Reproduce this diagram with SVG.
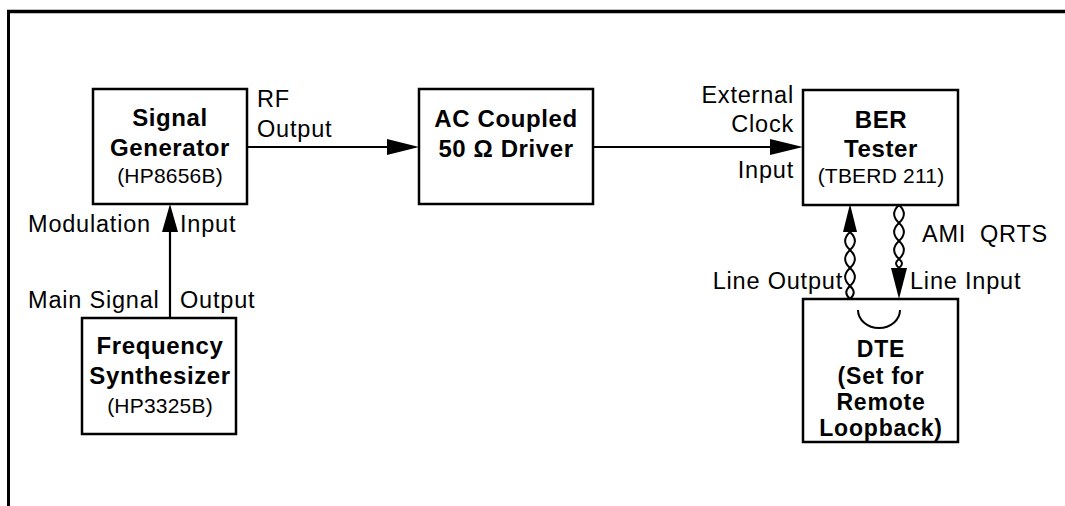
<svg xmlns="http://www.w3.org/2000/svg" width="1065" height="506" viewBox="0 0 1065 506">
<defs>
<style>
.box{fill:#fff;stroke:#000;stroke-width:2.5}
.ln{fill:none;stroke:#000;stroke-width:2.2}
.tw{fill:none;stroke:#000;stroke-width:2}
.b{font-family:"Liberation Sans",Arial,sans-serif;font-weight:bold;font-size:24px;letter-spacing:0.6px;text-anchor:middle;fill:#000}
.d{font-size:23px;letter-spacing:0.8px}
.n{font-family:"Liberation Sans",Arial,sans-serif;font-size:23.5px;letter-spacing:0.8px;fill:#000}
.p{font-family:"Liberation Sans",Arial,sans-serif;font-size:21px;letter-spacing:0.2px;text-anchor:middle;fill:#000}
.r{text-anchor:end}
.ah{fill:#000}
</style>
</defs>
<rect width="1065" height="506" fill="#fff"/>
<g id="frame">
<line x1="7" y1="11.5" x2="1065" y2="11.5" stroke="#000" stroke-width="3.5"/>
<line x1="8.5" y1="10" x2="8.5" y2="506" stroke="#000" stroke-width="3"/>
</g>
<g id="connectors">
<line class="ln" x1="247" y1="147" x2="392" y2="147"/>
<polygon class="ah" points="387,139 419,147 387,155"/>
<line class="ln" x1="593" y1="147" x2="775" y2="147"/>
<polygon class="ah" points="770,139 803,147 770,155"/>
<line class="ln" x1="170" y1="318" x2="170" y2="228"/>
<polygon class="ah" points="162,232 170,204 178,232"/>
<polygon class="ah" points="843,232 850,204 857,232"/>
<path class="tw" d="M850 232 C856.5 238 856.5 244 850 250 C843.5 256 843.5 262 850 268 C856.5 274 856.5 280 850 286 C845 290.5 845 294.5 850 299"/>
<path class="tw" d="M850 232 C843.5 238 843.5 244 850 250 C856.5 256 856.5 262 850 268 C843.5 274 843.5 280 850 286 C855 290.5 855 294.5 850 299"/>
<path class="tw" d="M899 205 C905.5 211 905.5 217 899 223 C892.5 229 892.5 235 899 241 C905.5 247 905.5 253 899 259 C895 262 895 265 899 268"/>
<path class="tw" d="M899 205 C892.5 211 892.5 217 899 223 C905.5 229 905.5 235 899 241 C892.5 247 892.5 253 899 259 C903 262 903 265 899 268"/>
<polygon class="ah" points="891,268 907,268 899,299"/>
</g>
<g id="signal-generator">
<rect class="box" x="93" y="89" width="154" height="115"/>
<text class="b" x="170" y="126">Signal</text>
<text class="b" x="170" y="156">Generator</text>
<text class="p" x="170" y="183">(HP8656B)</text>
</g>
<g id="frequency-synthesizer">
<rect class="box" x="82" y="318" width="154" height="116"/>
<text class="b" x="160" y="354">Frequency</text>
<text class="b" x="160" y="384">Synthesizer</text>
<text class="p" x="160" y="413">(HP3325B)</text>
</g>
<g id="ac-driver">
<rect class="box" x="419" y="89" width="174" height="115"/>
<text class="b" x="506" y="127">AC Coupled</text>
<text class="b" x="506" y="157">50 Ω Driver</text>
</g>
<g id="ber-tester">
<rect class="box" x="803" y="90" width="155" height="115"/>
<text class="b" x="881" y="128">BER</text>
<text class="b" x="881" y="157">Tester</text>
<text class="p" x="881" y="183">(TBERD 211)</text>
</g>
<g id="dte">
<rect class="box" x="803" y="299" width="155" height="143"/>
<path class="tw" d="M858 310 A21 18 0 0 0 900 310"/>
<text class="b d" x="881" y="357">DTE</text>
<text class="b d" x="881" y="384">(Set for</text>
<text class="b d" x="881" y="410">Remote</text>
<text class="b d" x="881" y="436">Loopback)</text>
</g>
<g id="labels">
<text class="n" x="257" y="107">RF</text>
<text class="n" x="257" y="137">Output</text>
<text class="n" x="28" y="232">Modulation</text>
<text class="n" x="180" y="232">Input</text>
<text class="n" x="28" y="308">Main Signal</text>
<text class="n" x="180" y="308">Output</text>
<text class="n r" x="794" y="103">External</text>
<text class="n r" x="794" y="132">Clock</text>
<text class="n r" x="794" y="178">Input</text>
<text class="n" x="922" y="242">AMI<tspan x="980">QRTS</tspan></text>
<text class="n r" x="843" y="289">Line Output</text>
<text class="n" x="910" y="289">Line Input</text>
</g>
</svg>
